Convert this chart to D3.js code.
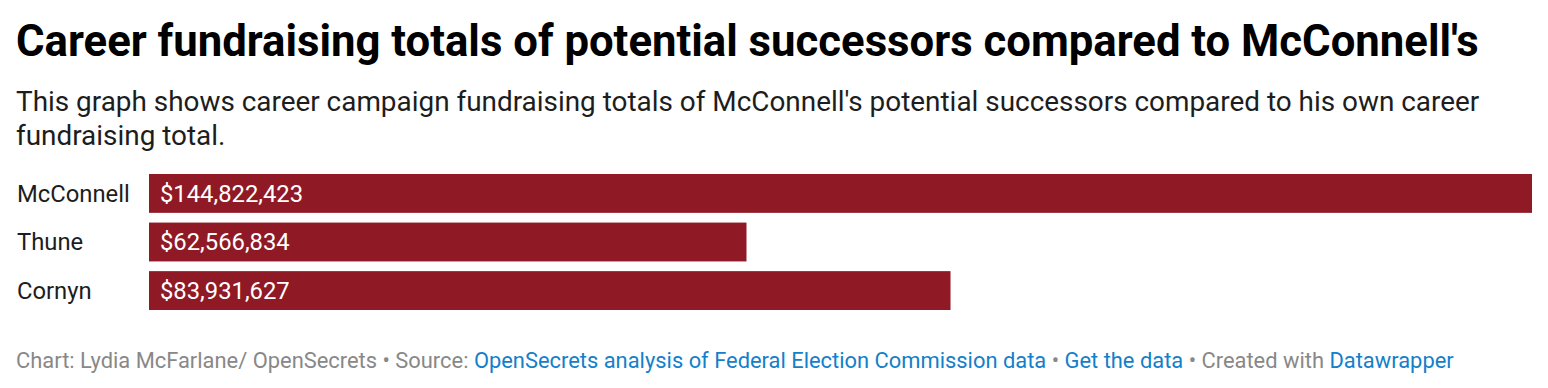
<!DOCTYPE html>
<meta charset="utf-8">
<style>
    body {
        margin: 0;
        background: #fff;
    }
    svg {
        font-family: Roboto, sans-serif;
    }
</style>
<body>
<script src="https://cdn.jsdelivr.net/npm/d3@7"></script>
<script>
    // data
    const names = ["McConnell", "Thune", "Cornyn"];
    const totals = [144822423, 62566834, 83931627];

    const title = "Career fundraising totals of potential successors compared to McConnell's";
    const subtitle = [
        "This graph shows career campaign fundraising totals of McConnell's potential successors compared to his own career",
        "fundraising total."
    ];

    const width = 1548;
    const height = 388;
    const margin = {left: 149, right: 16};

    const svg = d3.select("body")
        .append("svg")
        .attr("width", width)
        .attr("height", height);

    // title + description
    svg.append("text")
        .attr("x", 16)
        .attr("y", 56)
        .style("font-size", "43.7px")
        .style("font-weight", 700)
        .style("fill", "#000")
        .text(title);

    svg.append("g")
        .selectAll("text")
        .data(subtitle)
        .enter().append("text")
        .attr("x", 16)
        .attr("y", (d, i) => 111 + i * 34)
        .style("font-size", "27.9px")
        .style("fill", "#1d1d1d")
        .text(d => d);

    // scales
    const x = d3.scaleLinear()
        .domain([0, d3.max(totals)])
        .range([margin.left, width - margin.right]);

    const y = d3.scaleBand()
        .domain(names)
        .range([174, 310])
        .paddingInner(0.2);

    const rows = names.map((n, i) => ({name: n, value: totals[i]}));

    const bars = svg.append("g")
        .selectAll("g")
        .data(rows)
        .enter().append("g");

    bars.append("rect")
        .attr("x", x(0))
        .attr("y", d => y(d.name))
        .attr("width", d => x(d.value) - x(0))
        .attr("height", y.bandwidth())
        .style("fill", "#8f1a25");

    bars.append("text")
        .attr("x", 17)
        .attr("y", d => y(d.name) + y.bandwidth() / 2)
        .attr("dy", "0.35em")
        .style("font-size", "23.8px")
        .style("fill", "#1d1d1d")
        .text(d => d.name);

    const fmt = d3.format("$,");
    bars.append("text")
        .attr("x", x(0) + 11)
        .attr("y", d => y(d.name) + y.bandwidth() / 2)
        .attr("dy", "0.35em")
        .style("font-size", "23.8px")
        .style("fill", "#fff")
        .text(d => fmt(d.value));

    // footer
    const footer = svg.append("text")
        .attr("x", 16)
        .attr("y", 368)
        .style("font-size", "21.9px")
        .style("fill", "#888");
    const grey = "#888", blue = "#1380c9";
    [
        ["Chart: Lydia McFarlane/ OpenSecrets • Source: ", grey],
        ["OpenSecrets analysis of Federal Election Commission data", blue],
        [" • ", grey],
        ["Get the data", blue],
        [" • Created with ", grey],
        ["Datawrapper", blue]
    ].forEach(p => {
        footer.append("tspan").style("fill", p[1]).text(p[0]);
    });
</script>
</body>
